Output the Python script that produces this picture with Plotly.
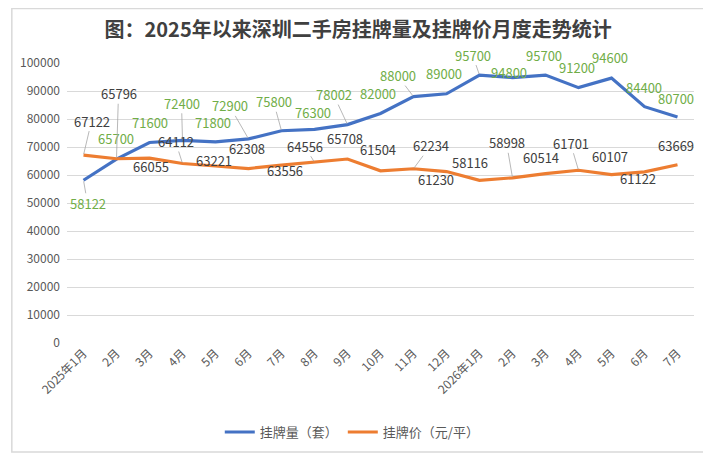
import plotly.graph_objects as go

months = ["2025年1月", "2月", "3月", "4月", "5月", "6月", "7月", "8月", "9月", "10月",
          "11月", "12月", "2026年1月", "2月", "3月", "4月", "5月", "6月", "7月"]
listing_count = [58122, 65700, 71600, 72400, 71800, 72900, 75800, 76300, 78002, 82000,
                 88000, 89000, 95700, 94800, 95700, 91200, 94600, 84400, 80700]
listing_price = [67122, 65796, 66055, 64112, 63221, 62308, 63556, 64556, 65708, 61504,
                 62234, 61230, 58116, 58998, 60514, 61701, 60107, 61122, 63669]

# label offsets (pixels) and whether a leader line is shown
count_off = [(4, 23, 1), (-1, -21, 0), (0, -20, 0), (-1, -37, 1), (-3, -19, 0), (-19, -33, 1),
             (-8, -29, 1), (-2, -17, 0), (-14, -30, 1), (-3, -20, 0), (-16, -21, 1), (-3, -20, 0),
             (-7, -20, 1), (-4, -5, 0), (-2, -20, 0), (-2, -20, 0), (-2, -21, 0), (-1, -19, 0),
             (-2, -19, 0)]
price_off = [(8, -34, 1), (2, -65, 1), (1, 8, 0), (-7, -22, 1), (-2, -5, 0), (-2, -20, 0),
             (3, 5, 0), (-10, -16, 1), (-3, -21, 0), (-3, -21, 0), (17, -23, 1), (-11, 8, 0),
             (-10, -18, 0), (-6, -35, 1), (-5, -16, 0), (-8, -27, 1), (-2, -18, 0), (-7, 7, 0),
             (-2, -19, 0)]

BLUE = "#4472C4"
ORANGE = "#ED7D31"
GREEN = "#70AD47"
DARK = "#404040"
FONT = "Noto Sans CJK SC"

xs = list(range(len(months)))

fig = go.Figure()
fig.add_trace(go.Scatter(x=xs, y=listing_count, mode="lines", name="挂牌量（套）",
                         line=dict(color=BLUE, width=3.2)))
fig.add_trace(go.Scatter(x=xs, y=listing_price, mode="lines", name="挂牌价（元/平）",
                         line=dict(color=ORANGE, width=3.2)))

annotations = []
for vals, offs, col in ((listing_count, count_off, GREEN), (listing_price, price_off, DARK)):
    for i, v in enumerate(vals):
        dx, dy, lead = offs[i]
        annotations.append(dict(
            x=xs[i], y=v, xref="x", yref="y", text=str(v), showarrow=True,
            ax=dx, ay=dy, arrowhead=0, arrowwidth=0.8, standoff=1, borderpad=0,
            arrowcolor="#A6A6A6" if lead else "rgba(0,0,0,0)",
            font=dict(family=FONT, size=13, color=col)))

# page body has an 8px margin, so the figure is 8px smaller than the window
fig.update_layout(
    width=703, height=451,
    margin=dict(l=56, r=17, t=55, b=116),
    paper_bgcolor="white", plot_bgcolor="white",
    font=dict(family=FONT, color="#595959", size=12),
    title=dict(text="<b>图：2025年以来深圳二手房挂牌量及挂牌价月度走势统计</b>",
               x=0.498, xref="container", y=0.952, yref="container",
               xanchor="center", yanchor="middle",
               font=dict(family=FONT, size=20, color="#404040")),
    showlegend=True,
    legend=dict(orientation="h", x=0.455, xanchor="center", y=-0.318, yanchor="middle",
                font=dict(family=FONT, size=13, color="#595959"), bgcolor="rgba(0,0,0,0)",
                itemwidth=30),
    annotations=annotations,
    shapes=[dict(type="rect", xref="paper", yref="paper",
                 x0=-0.088, x1=1.019, y0=-0.389, y1=1.195,
                 line=dict(color="#D9D9D9", width=1.5), fillcolor="rgba(0,0,0,0)", layer="below")],
)
fig.update_xaxes(tickmode="array", tickvals=xs, ticktext=months, range=[-0.5, len(months) - 0.5],
                 tickangle=-45, showgrid=False, zeroline=False, showline=False,
                 tickfont=dict(family=FONT, size=12, color="#595959"))
fig.update_yaxes(range=[0, 100000], dtick=10000, tickformat="d", showgrid=True,
                 gridcolor="#D9D9D9", gridwidth=1, zeroline=False, showline=False,
                 ticklabelstandoff=6,
                 tickfont=dict(family=FONT, size=12, color="#595959"))

fig.write_html("out.html")
